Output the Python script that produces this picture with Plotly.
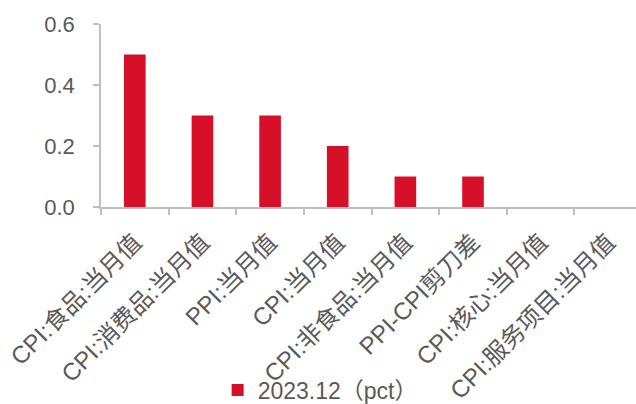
import plotly.graph_objects as go

categories = ["CPI:食品:当月值", "CPI:消费品:当月值", "PPI:当月值", "CPI:当月值",
              "CPI:非食品:当月值", "PPI-CPI剪刀差", "CPI:核心:当月值", "CPI:服务项目:当月值"]
values = [0.5, 0.3, 0.3, 0.2, 0.1, 0.1, 0.0, 0.0]
series_name = "2023.12（pct）"
y_ticks = [0.0, 0.2, 0.4, 0.6]
y_ticklabels = ["0.0", "0.2", "0.4", "0.6"]

font_family = "Liberation Sans, Arial, Noto Sans CJK SC, sans-serif"
text_color = "#595959"
axis_color = "#BFBFBF"

fig = go.Figure()
fig.add_trace(go.Bar(
    x=categories, y=values, name=series_name,
    marker=dict(color="#D7102A", line=dict(width=0)),
    width=0.32,
))

fig.update_layout(
    width=636, height=404,
    margin=dict(l=101, r=0, t=24, b=197, autoexpand=False),
    paper_bgcolor="white", plot_bgcolor="white",
    font=dict(family=font_family, size=22, color=text_color),
    showlegend=True,
    legend=dict(orientation="h", x=0.218, xanchor="left", xref="paper",
                y=-1.0, yanchor="middle", font=dict(size=23, color=text_color),
                itemwidth=30, bgcolor="rgba(0,0,0,0)", tracegroupgap=0),
)
fig.update_xaxes(
    type="category", range=[-0.5, 7.41],
    tickangle=-45, tickson="boundaries",
    showline=True, linecolor=axis_color, linewidth=1.5,
    ticks="outside", ticklen=6, tickcolor=axis_color, tickwidth=1.5,
    showgrid=False, tickfont=dict(size=24, color=text_color),
    ticklabelstandoff=10,
)
fig.update_yaxes(
    range=[0, 0.6], tickvals=y_ticks, ticktext=y_ticklabels,
    showline=True, linecolor=axis_color, linewidth=1.5,
    ticks="outside", ticklen=6, tickcolor=axis_color, tickwidth=1.5,
    showgrid=False, zeroline=False, tickfont=dict(size=22, color=text_color),
    ticklabelstandoff=14,
)

fig.write_html("out.html")
